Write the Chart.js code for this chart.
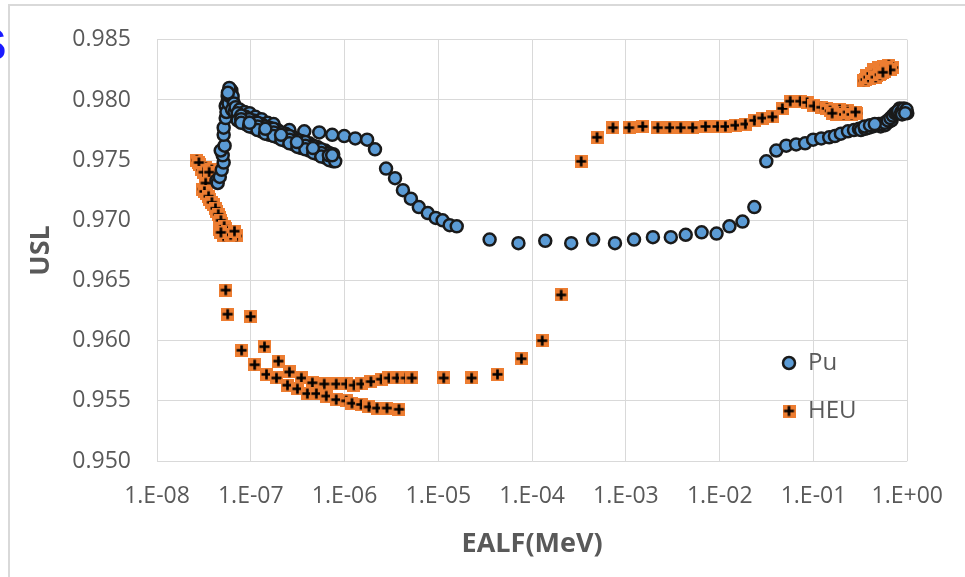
<!DOCTYPE html>
<html>
<head>
<meta charset="utf-8">
<script src="https://cdn.jsdelivr.net/npm/chart.js@4.4.1/dist/chart.umd.min.js"></script>
<style>
  html, body { margin: 0; padding: 0; background: #fff; }
  canvas { display: block; }
</style>
</head>
<body>
<canvas id="grafico" width="965" height="577"></canvas>
<script>
// --- datos ---
const xTicks = [1e-8, 1e-7, 1e-6, 1e-5, 1e-4, 1e-3, 1e-2, 1e-1, 1];
const xTickLabels = ['1.E-08', '1.E-07', '1.E-06', '1.E-05', '1.E-04', '1.E-03', '1.E-02', '1.E-01', '1.E+00'];

const puEalf = [
  4.30e-8, 4.44e-8, 4.67e-8, 4.90e-8, 5.14e-8, 5.02e-8, 4.78e-8, 5.26e-8, 5.14e-8, 5.14e-8, 5.40e-8, 5.40e-8,
  5.67e-8, 5.67e-8, 5.96e-8, 6.10e-8, 6.24e-8, 6.39e-8,
  5.5e-8, 5.8e-8, 6.0e-8, 6.2e-8, 5.9e-8, 6.4e-8, 6.6e-8, 6.3e-8, 5.7e-8, 6.7e-8,
  6.90e-8, 7.60e-8, 8.59e-8, 9.70e-8, 1.12e-7, 1.30e-7, 1.51e-7, 1.75e-7,
  2.58e-7, 3.72e-7, 5.37e-7, 7.38e-7, 9.91e-7, 1.30e-6, 1.74e-6, 2.11e-6, 2.77e-6, 3.45e-6, 4.19e-6,
  5.09e-6, 6.19e-6, 7.71e-6, 9.38e-6, 1.11e-5, 1.32e-5, 1.57e-5,
  3.52e-5, 7.14e-5, 1.38e-4, 2.61e-4, 4.47e-4, 7.64e-4, 1.22e-3, 1.94e-3, 3.01e-3, 4.34e-3, 6.41e-3,
  9.25e-3, 1.27e-2, 1.75e-2, 2.34e-2, 3.14e-2, 4.01e-2, 5.12e-2, 6.53e-2, 8.14e-2, 9.91e-2,
  0.121, 0.147, 0.169, 0.196, 0.233, 0.270, 0.305, 0.336, 0.371, 0.409, 0.451, 0.497, 0.548, 0.604,
  0.52, 0.58, 0.64, 0.68,
  0.32, 0.355, 0.39, 0.43, 0.47, 0.52, 0.575, 0.62, 0.66, 0.70, 0.74, 0.35, 0.40, 0.45,
  0.771, 0.830, 0.894, 0.962, 1.0, 0.93, 0.80, 0.86, 0.92, 0.98, 0.88, 0.95,
  7.24e-8, 8.81e-8, 1.07e-7, 1.30e-7, 1.58e-7, 1.93e-7, 2.34e-7, 2.85e-7, 3.46e-7, 4.21e-7, 5.12e-7, 6.22e-7, 7.57e-7,
  7.24e-8, 8.81e-8, 1.07e-7, 1.30e-7, 1.58e-7, 1.93e-7, 2.34e-7, 2.85e-7, 3.46e-7, 4.21e-7, 5.12e-7, 6.22e-7, 7.57e-7,
  7.9e-8, 9.6e-8, 1.18e-7, 1.42e-7, 1.75e-7, 2.12e-7, 2.58e-7, 3.14e-7, 3.82e-7, 4.64e-7, 5.64e-7, 6.85e-7,
  7.9e-8, 9.6e-8, 1.18e-7, 1.42e-7, 1.75e-7, 2.12e-7, 2.58e-7, 3.14e-7, 3.82e-7, 4.64e-7, 5.64e-7, 6.85e-7,
  7.9e-8, 9.6e-8, 1.18e-7, 1.42e-7, 1.75e-7, 2.12e-7, 2.58e-7, 3.14e-7, 3.82e-7, 4.64e-7, 5.64e-7, 6.85e-7,
  9.7e-8, 1.43e-7, 2.1e-7, 3.1e-7, 4.6e-7, 6.8e-7, 7.95e-7, 7.38e-7
];
const puUsl = [
  0.9733, 0.9731, 0.9736, 0.9742, 0.9748, 0.9754, 0.9758, 0.9762, 0.9771, 0.9777, 0.9785, 0.9795,
  0.9799, 0.9803, 0.9807, 0.9808, 0.9805, 0.9800,
  0.9790, 0.9797, 0.9803, 0.9808, 0.9810, 0.9803, 0.9797, 0.9792, 0.9806, 0.9790,
  0.9794, 0.9792, 0.9790, 0.9789, 0.9786, 0.9784, 0.9781, 0.9780,
  0.9775, 0.9774, 0.9773, 0.9771, 0.9770, 0.9768, 0.9767, 0.9759, 0.9743, 0.9735, 0.9725,
  0.9718, 0.9711, 0.9706, 0.9702, 0.9700, 0.9696, 0.9695,
  0.9684, 0.9681, 0.9683, 0.9681, 0.9684, 0.9681, 0.9684, 0.9686, 0.9686, 0.9688, 0.9690,
  0.9689, 0.9695, 0.9699, 0.9711, 0.9749, 0.9758, 0.9762, 0.9763, 0.9764, 0.9767,
  0.9768, 0.9769, 0.9770, 0.9772, 0.9774, 0.9775, 0.9776, 0.9776, 0.9777, 0.9778, 0.9779, 0.9780, 0.9780, 0.9781,
  0.9778, 0.9779, 0.9782, 0.9783,
  0.9775, 0.9776, 0.9777, 0.9778, 0.9779, 0.9780, 0.9781, 0.9783, 0.9785, 0.9787, 0.9789, 0.9778, 0.9779, 0.9780,
  0.9790, 0.9793, 0.9792, 0.9791, 0.9789, 0.9790, 0.9791, 0.9790, 0.9793, 0.9792, 0.9788, 0.9789,
  0.9789, 0.9786, 0.9783, 0.9780, 0.9777, 0.9775, 0.9772, 0.9769, 0.9766, 0.9764, 0.9761, 0.9758, 0.9755,
  0.9783, 0.9780, 0.9777, 0.9774, 0.9771, 0.9769, 0.9766, 0.9763, 0.9760, 0.9758, 0.9755, 0.9752, 0.9749,
  0.9787, 0.9784, 0.9781, 0.9778, 0.9776, 0.9773, 0.9770, 0.9767, 0.9765, 0.9762, 0.9759, 0.9756,
  0.9784, 0.9781, 0.9778, 0.9775, 0.9773, 0.9770, 0.9767, 0.9764, 0.9762, 0.9759, 0.9756, 0.9753,
  0.9781, 0.9778, 0.9775, 0.9772, 0.9770, 0.9767, 0.9764, 0.9761, 0.9759, 0.9756, 0.9753, 0.9750,
  0.9781, 0.9776, 0.9771, 0.9765, 0.9760, 0.9754, 0.9749, 0.9754
];

const heuEalf = [
  2.66e-8, 2.86e-8, 3.00e-8, 3.31e-8, 3.84e-8, 3.48e-8, 3.93e-8, 3.08e-8, 3.40e-8, 3.65e-8, 4.03e-8, 4.34e-8,
  4.67e-8, 4.90e-8, 5.40e-8, 5.81e-8, 6.41e-8, 7.06e-8, 5.14e-8, 4.67e-8,
  2.8e-8, 3.15e-8, 3.6e-8, 3.3e-8, 3.2e-8, 3.55e-8, 3.85e-8, 4.2e-8, 4.5e-8, 4.8e-8, 5.2e-8, 5.6e-8, 6.1e-8, 4.8e-8, 6.7e-8,
  5.40e-8, 5.67e-8, 9.95e-8, 7.98e-8, 1.40e-7, 1.10e-7, 1.97e-7, 1.47e-7, 2.58e-7, 1.88e-7, 3.46e-7, 2.46e-7,
  4.53e-7, 3.14e-7, 6.07e-7, 4.01e-7, 8.15e-7, 5.00e-7, 1.04e-6, 6.38e-7, 1.26e-6, 8.15e-7, 1.50e-6, 1.04e-6,
  1.91e-6, 1.20e-6, 2.45e-6, 1.50e-6, 2.97e-6, 1.82e-6, 3.62e-6, 2.22e-6, 4.51e-6, 2.83e-6, 5.22e-6, 3.80e-6,
  1.14e-5, 2.26e-5, 4.27e-5, 7.68e-5, 1.28e-4, 2.04e-4, 3.33e-4, 4.92e-4, 7.28e-4,
  1.08e-3, 1.51e-3, 2.19e-3, 2.93e-3, 3.84e-3, 5.14e-3, 7.06e-3, 9.48e-3, 1.15e-2, 1.47e-2, 1.88e-2, 2.34e-2,
  2.84e-2, 3.64e-2, 4.65e-2, 5.65e-2, 7.21e-2, 8.55e-2, 0.101, 0.121, 0.139, 0.166, 0.182, 0.201, 0.222, 0.244,
  0.270, 0.290, 0.19, 0.23, 0.26,
  0.175, 0.192, 0.21, 0.232, 0.255, 0.28, 0.15, 0.158,
  0.440, 0.497, 0.561, 0.635, 0.700, 0.344, 0.371, 0.399, 0.430, 0.473, 0.522, 0.575,
  0.36, 0.385, 0.415, 0.45, 0.49, 0.53, 0.60, 0.66, 0.46, 0.51, 0.55
];
const heuUsl = [
  0.9750, 0.9746, 0.9742, 0.9744, 0.9742, 0.9738, 0.9734, 0.9726, 0.9722, 0.9717, 0.9713, 0.9707,
  0.9702, 0.9697, 0.9693, 0.9689, 0.9689, 0.9687, 0.9687, 0.9692,
  0.9748, 0.9740, 0.9740, 0.9731, 0.9724, 0.9720, 0.9715, 0.9710, 0.9705, 0.9700, 0.9695, 0.9691, 0.9688, 0.9690, 0.9691,
  0.9642, 0.9622, 0.9620, 0.9592, 0.9595, 0.9580, 0.9583, 0.9572, 0.9574, 0.9569, 0.9569, 0.9563,
  0.9565, 0.9560, 0.9564, 0.9556, 0.9564, 0.9556, 0.9564, 0.9554, 0.9563, 0.9551, 0.9564, 0.9550,
  0.9566, 0.9548, 0.9568, 0.9547, 0.9569, 0.9545, 0.9569, 0.9544, 0.9569, 0.9544, 0.9569, 0.9543,
  0.9569, 0.9569, 0.9572, 0.9585, 0.9600, 0.9638, 0.9749, 0.9769, 0.9777,
  0.9777, 0.9778, 0.9777, 0.9777, 0.9777, 0.9777, 0.9778, 0.9778, 0.9778, 0.9779, 0.9780, 0.9783,
  0.9785, 0.9786, 0.9793, 0.9799, 0.9799, 0.9798, 0.9795, 0.9794, 0.9793, 0.9790, 0.9789, 0.9789, 0.9789, 0.9789,
  0.9789, 0.9789, 0.9792, 0.9791, 0.9790,
  0.9788, 0.9790, 0.9788, 0.9790, 0.9788, 0.9790, 0.9791, 0.9789,
  0.9825, 0.9827, 0.9828, 0.9829, 0.9827, 0.9816, 0.9820, 0.9818, 0.9821, 0.9820, 0.9822, 0.9824,
  0.9817, 0.9819, 0.9822, 0.9823, 0.9825, 0.9826, 0.9826, 0.9825, 0.9819, 0.9821, 0.9823
];

const colores = {
  azul: '#5B9BD5',
  naranja: '#ED7D31',
  borde: '#1a1a1a',
  texto: '#595959',
  grilla: '#d9d9d9'
};

// marcador HEU: cuadro naranja con cruz negra
function crearMarcadorHEU() {
  const c = document.createElement('canvas');
  c.width = 13; c.height = 13;
  const g = c.getContext('2d');
  g.fillStyle = colores.naranja;
  g.fillRect(0, 0, 13, 13);
  g.strokeStyle = '#000';
  g.lineWidth = 2.6;
  g.beginPath();
  g.moveTo(6.5, 1.5); g.lineTo(6.5, 11.5);
  g.moveTo(1.5, 6.5); g.lineTo(11.5, 6.5);
  g.stroke();
  return c;
}
const marcadorHEU = crearMarcadorHEU();

const puntos = (xs, ys) => xs.map((x, i) => ({ x: x, y: ys[i] }));

// fondo, marco y leyenda dibujados a mano
const marcoPlugin = {
  id: 'marco',
  beforeDraw(chart) {
    const ctx = chart.ctx;
    ctx.save();
    ctx.fillStyle = '#fff';
    ctx.fillRect(0, 0, chart.width, chart.height);
    ctx.strokeStyle = colores.grilla;
    ctx.lineWidth = 2;
    ctx.beginPath();
    ctx.moveTo(9, chart.height);
    ctx.lineTo(9, 5);
    ctx.lineTo(chart.width, 5);
    ctx.stroke();
    ctx.fillStyle = '#1a1aff';
    ctx.font = 'bold 44px "Liberation Sans"';
    ctx.textBaseline = 'alphabetic';
    ctx.fillText('S', -23, 60);
    ctx.restore();
  }
};

const leyendaPlugin = {
  id: 'leyenda',
  afterDraw(chart) {
    const ctx = chart.ctx;
    ctx.save();
    ctx.beginPath();
    ctx.arc(789, 363, 6, 0, Math.PI * 2);
    ctx.fillStyle = colores.azul;
    ctx.fill();
    ctx.lineWidth = 2.5;
    ctx.strokeStyle = colores.borde;
    ctx.stroke();
    ctx.drawImage(marcadorHEU, 789 - 6.5, 411 - 6.5);
    ctx.fillStyle = colores.texto;
    ctx.font = '24px "Open Sans"';
    ctx.textBaseline = 'middle';
    ctx.fillText(chart.data.datasets[0].label, 808, 363);
    ctx.fillText(chart.data.datasets[1].label, 808, 411);
    ctx.restore();
  }
};

new Chart(document.getElementById('grafico').getContext('2d'), {
  type: 'scatter',
  data: {
    datasets: [
      {
        label: 'Pu',
        data: puntos(puEalf, puUsl),
        pointStyle: 'circle',
        pointRadius: 6,
        pointBorderWidth: 2.5,
        pointBackgroundColor: colores.azul,
        pointBorderColor: colores.borde,
        clip: false
      },
      {
        label: 'HEU',
        data: puntos(heuEalf, heuUsl),
        pointStyle: marcadorHEU,
        pointRadius: 6.5,
        clip: false
      }
    ]
  },
  options: {
    responsive: false,
    animation: false,
    layout: { padding: { top: 33, right: 55, left: 0, bottom: 0 } },
    plugins: {
      legend: { display: false },
      tooltip: { enabled: false }
    },
    scales: {
      x: {
        type: 'logarithmic',
        min: 1e-8,
        max: 1,
        afterBuildTicks: s => { s.ticks = xTicks.map(v => ({ value: v })); },
        afterFit: s => { s.height = 116; },
        grid: { color: colores.grilla, drawTicks: false },
        border: { display: false },
        ticks: {
          color: colores.texto,
          font: { family: 'Open Sans', size: 23 },
          padding: 22,
          maxRotation: 0,
          autoSkip: false,
          callback: (v, i) => xTickLabels[i]
        },
        title: {
          display: true,
          text: 'EALF(MeV)',
          color: colores.texto,
          font: { family: 'Open Sans', size: 27, weight: 'bold' },
          padding: { top: 0, bottom: 16 }
        }
      },
      y: {
        min: 0.95,
        max: 0.985,
        afterFit: s => { s.width = 157; },
        grid: { color: colores.grilla, drawTicks: false },
        border: { display: false },
        ticks: {
          stepSize: 0.005,
          color: colores.texto,
          font: { family: 'Open Sans', size: 23 },
          padding: 26,
          callback: v => v.toFixed(3)
        },
        title: {
          display: true,
          text: 'USL',
          color: colores.texto,
          font: { family: 'Open Sans', size: 27, weight: 'bold' },
          padding: { top: 25, bottom: 0 }
        }
      }
    }
  },
  plugins: [marcoPlugin, leyendaPlugin]
});
</script>
</body>
</html>
